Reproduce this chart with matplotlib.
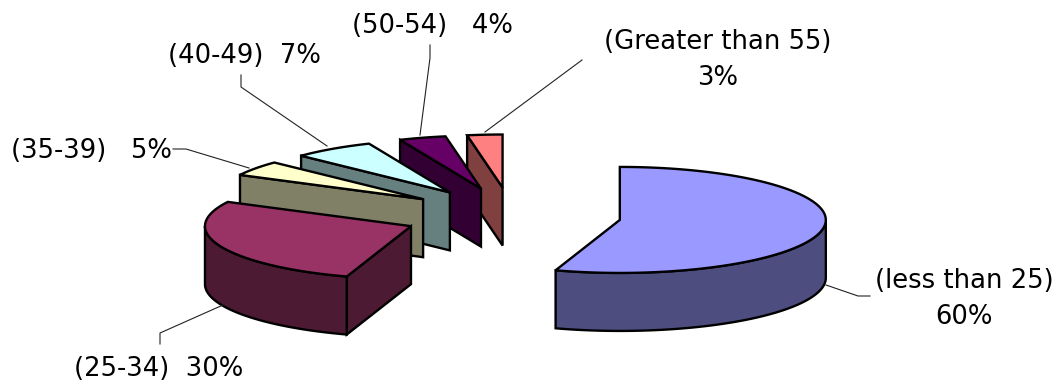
import numpy as np
import matplotlib
matplotlib.use("Agg")
import matplotlib.pyplot as plt
from matplotlib.patches import Polygon

categories = ["(less than 25)", "(25-34)", "(35-39)", "(40-49)", "(50-54)", "(Greater than 55)"]
percentages = [60, 30, 5, 7, 4, 3]

top_colors = ["#9999FF", "#993366", "#FFFFCC", "#CCFFFF", "#660066", "#FF8080"]
side_colors = ["#4D4D80", "#4D1A33", "#808066", "#668080", "#330033", "#804040"]

# Projection of the tilted pie onto the canvas, in pixels
PIE_X, PIE_Y = 512.0, 215.5
RX, RY = 206.0, 53.0
DEPTH = 58.0
EXPLODE = 0.53

# Label text, position and leader line for each slice
label_texts = [
    "(less than 25)\n60%",
    "(25-34)  30%",
    "(35-39)   5%",
    "(40-49)  7%",
    "(50-54)   4%",
    "(Greater than 55)\n3%",
]
label_anchor = [(964, 299), (159, 369), (91, 151), (244, 56), (432, 26), (718, 60)]
leaders = [
    [(826, 285), (858, 296), (870, 296)],
    [(223, 305), (160, 333), (160, 344)],
    [(173, 149), (186, 149), (249, 168)],
    [(241, 75), (241, 87), (327, 146)],
    [(430, 45), (430, 58), (420, 135)],
    [(582, 60), (485, 132)],
]


def rim(cx, cy, a0, a1):
    """Points of the elliptical rim between two clockwise angles from 12 o'clock."""
    n = max(int(abs(a1 - a0)) + 2, 2)
    t = np.radians(np.linspace(a0, a1, n))
    return np.column_stack((cx + RX * np.sin(t), cy - RY * np.cos(t)))


def patch(ax, pts, color):
    ax.add_patch(Polygon(pts, closed=True, facecolor=color, edgecolor="black",
                         linewidth=1.7, joinstyle="miter"))


fig = plt.figure(figsize=(10.62, 3.85), dpi=100)
ax = fig.add_axes([0, 0, 1, 1])
ax.set_xlim(0, 1062)
ax.set_ylim(385, 0)
ax.axis("off")

shares = np.array(percentages) / sum(percentages) * 360.0
ends = np.cumsum(shares)
starts = ends - shares

# Back slices are painted first so that nearer ones overlap them
for i in [5, 4, 3, 2, 1, 0]:
    a0, a1 = starts[i], ends[i]
    mid = np.radians((a0 + a1) / 2)
    cx = PIE_X + EXPLODE * RX * np.sin(mid)
    cy = PIE_Y - EXPLODE * RY * np.cos(mid)
    down = np.array([0, DEPTH])
    centre = np.array([cx, cy])

    # Cut faces turned towards the viewer
    if 180 < a0 < 360:
        p = rim(cx, cy, a0, a0)[0]
        patch(ax, [centre, p, p + down, centre + down], side_colors[i])
    if 0 < a1 < 180:
        p = rim(cx, cy, a1, a1)[0]
        patch(ax, [centre, p, p + down, centre + down], side_colors[i])

    # Outer wall along the front half of the rim
    w0, w1 = max(a0, 90), min(a1, 270)
    if w1 > w0:
        arc = rim(cx, cy, w0, w1)
        patch(ax, np.vstack((arc, arc[::-1] + down)), side_colors[i])

    # Top surface
    patch(ax, np.vstack((centre, rim(cx, cy, a0, a1))), top_colors[i])

for line in leaders:
    xs, ys = zip(*line)
    ax.plot(xs, ys, color="#222222", linewidth=0.8, solid_joinstyle="miter")

for text, (x, y) in zip(label_texts, label_anchor):
    ax.text(x, y, text, ha="center", va="center", fontsize=18.6,
            family="DejaVu Sans", color="black", linespacing=1.52)

fig.savefig("out.png", dpi=100, facecolor="white")
